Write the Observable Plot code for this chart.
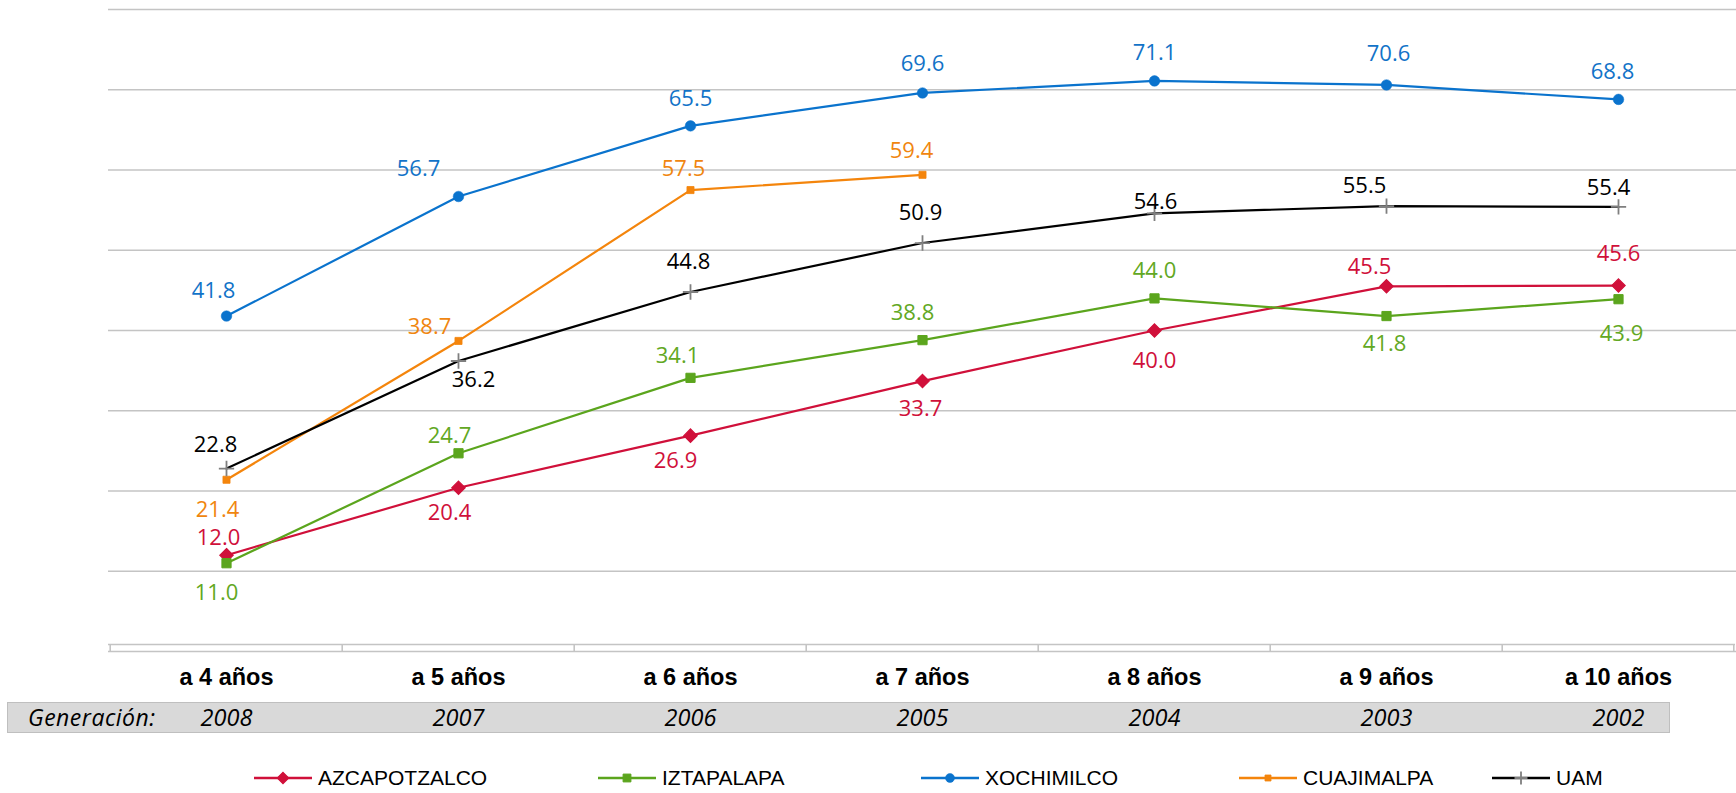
<!DOCTYPE html>
<html><head><meta charset="utf-8">
<script src="https://cdn.jsdelivr.net/npm/d3@7"></script>
<script src="https://cdn.jsdelivr.net/npm/@observablehq/plot@0.6"></script>
<style>
html,body{margin:0;padding:0;background:#fff;}
#wrap{position:relative;width:1736px;height:793px;overflow:hidden;background:#fff;}
#band{position:absolute;left:7px;top:702px;width:1663px;height:31px;box-sizing:border-box;background:#d9d9d9;border:1.5px solid #bfbfbf;z-index:0;}
#gen{position:absolute;left:28px;top:702px;height:31px;line-height:31px;font-family:"Open Sans";font-style:italic;font-size:23px;color:#000;z-index:2;letter-spacing:0.5px;}
#chart{position:absolute;left:0;top:0;z-index:1;}
#chart svg{background:transparent;}
.leg{position:absolute;top:766px;height:24px;display:flex;align-items:center;font-family:"Liberation Sans",Arial,sans-serif;font-size:21px;color:#000;z-index:2;}
.leg svg{margin-right:6px;}
</style>
</head><body>
<div id="wrap">
  <div id="band"></div>
  <div id="gen">Generación:</div>
  <div id="chart"></div>
</div>
<script>
// ---- data ----
const categorias = ["a 4 años","a 5 años","a 6 años","a 7 años","a 8 años","a 9 años","a 10 años"];
const generaciones = ["2008","2007","2006","2005","2004","2003","2002"];
const series = ["AZCAPOTZALCO","IZTAPALAPA","XOCHIMILCO","CUAJIMALPA","UAM"];
const azcapotzalco = [12.0,20.4,26.9,33.7,40.0,45.5,45.6];
const iztapalapa   = [11.0,24.7,34.1,38.8,44.0,41.8,43.9];
const xochimilco   = [41.8,56.7,65.5,69.6,71.1,70.6,68.8];
const cuajimalpa   = [21.4,38.7,57.5,59.4];
const uam          = [22.8,36.2,44.8,50.9,54.6,55.5,55.4];
const yTicks = [0,10,20,30,40,50,60,70,80];

// ---- styles ----
const valores = [azcapotzalco, iztapalapa, xochimilco, cuajimalpa, uam];
const colors = {AZCAPOTZALCO:"#d0103a", IZTAPALAPA:"#5ba51d", XOCHIMILCO:"#0a73cd", CUAJIMALPA:"#f4850c", UAM:"#000000"};
const labelColors = {AZCAPOTZALCO:"#d0103a", IZTAPALAPA:"#62a823", XOCHIMILCO:"#1273c8", CUAJIMALPA:"#f0860f", UAM:"#000000"};
const markers = {
  AZCAPOTZALCO:{symbol:"diamond2", r:6, fill:"#d0103a", stroke:"#d0103a", sw:1.2},
  IZTAPALAPA:{symbol:"square", r:5.2, fill:"#5ba51d", stroke:"#5ba51d", sw:1},
  XOCHIMILCO:{symbol:"circle", r:5.3, fill:"#0a73cd", stroke:"#0a73cd", sw:0.5},
  CUAJIMALPA:{symbol:"square", r:4, fill:"#f4850c", stroke:"#f4850c", sw:0.8},
  UAM:{symbol:"plus", r:5, fill:"none", stroke:"#7f7f7f", sw:1.8}
};
// label nudges in px (Excel manual label placement)
const labelNudge = {
  AZCAPOTZALCO:[[-8,-17],[-9,25],[-15,25],[-2,28],[0,30],[-17,-19],[0,-32]],
  IZTAPALAPA:[[-10,30],[-9,-17],[-13,-22],[-10,-27],[0,-27],[-2,28],[3,35]],
  XOCHIMILCO:[[-13,-25],[-40,-28],[0,-27],[0,-29],[0,-28],[2,-31],[-6,-27]],
  CUAJIMALPA:[[-9,30],[-29,-14],[-7,-21],[-11,-24]],
  UAM:[[-11,-24],[15,19],[-2,-30],[-2,-30],[1,-11],[-22,-20],[-10,-19]]
};

const W = 1736, H = 745, ML = 108, MR = 0, MT = 9, MB = 94;
const step = (W - ML - MR) / categorias.length;
const gridColor = "#c4c4c4";

const rows = [];
series.forEach((s, si) => valores[si].forEach((v, i) => rows.push({serie: s, cat: categorias[i], value: v, i})));

const marks = [];
marks.push(Plot.ruleY(yTicks.filter(t => t > 0), {stroke: gridColor, strokeWidth: 1.6}));
marks.push(Plot.ruleY([0], {stroke: gridColor, strokeWidth: 1.6}));
marks.push(Plot.ruleY([0], {stroke: gridColor, strokeWidth: 1.6, dy: -7, insetRight: 1}));
marks.push(Plot.ruleX(categorias, {x: d => d, y1: 0, y2: 0, insetTop: -7, dx: -step / 2, stroke: gridColor, strokeWidth: 1.6}));
marks.push(Plot.ruleX([categorias[categorias.length - 1]], {x: d => d, y1: 0, y2: 0, insetTop: -7, dx: step / 2 - 1, stroke: gridColor, strokeWidth: 1.6}));

series.forEach(s => {
  const data = rows.filter(r => r.serie === s);
  const m = markers[s];
  marks.push(Plot.line(data, {x: "cat", y: "value", stroke: colors[s], strokeWidth: 2.2, strokeLinejoin: "round"}));
  marks.push(Plot.dot(data, {x: "cat", y: "value", symbol: m.symbol, r: m.r, fill: m.fill, stroke: m.stroke, strokeWidth: m.sw}));
});
rows.forEach(r => {
  const [dx, dy] = labelNudge[r.serie][r.i];
  marks.push(Plot.text([r], {x: "cat", y: "value", text: d => d.value.toFixed(1), dx, dy,
    fill: labelColors[r.serie], fontSize: 22, fontFamily: "Open Sans", lineAnchor: "middle"}));
});
marks.push(Plot.text(categorias, {x: d => d, frameAnchor: "bottom", dy: 26, text: d => d,
  fontSize: 23.5, fontWeight: "bold", fontFamily: "Liberation Sans", fill: "#000", lineAnchor: "middle"}));
marks.push(Plot.text(generaciones, {x: (d, i) => categorias[i], frameAnchor: "bottom", dy: 67, text: d => d,
  fontSize: 23.5, fontStyle: "italic", fontFamily: "Open Sans", fill: "#000", lineAnchor: "middle"}));

const chart = Plot.plot({
  width: W, height: H, marginLeft: ML, marginRight: MR, marginTop: MT, marginBottom: MB,
  x: {type: "point", domain: categorias, padding: 0.5, axis: null},
  y: {domain: [0, 80], axis: null},
  style: {background: "transparent", overflow: "visible", fontFamily: "Liberation Sans"},
  marks
});
document.getElementById("chart").appendChild(chart);

// legend
const legLeft = {AZCAPOTZALCO: 254, IZTAPALAPA: 598, XOCHIMILCO: 921, CUAJIMALPA: 1239, UAM: 1492};
const symMap = {diamond2: d3.symbolDiamond2, square: d3.symbolSquare, circle: d3.symbolCircle, plus: d3.symbolPlus};
series.forEach(s => {
  const m = markers[s];
  const div = document.createElement("div");
  div.className = "leg";
  div.style.left = legLeft[s] + "px";
  const size = Math.PI * (m.r * 0.85) ** 2;
  const path = d3.symbol(symMap[m.symbol], size)();
  div.innerHTML = `<svg width="58" height="20"><line x1="0" x2="58" y1="10" y2="10" stroke="${colors[s]}" stroke-width="2.4"/>` +
    `<path d="${path}" transform="translate(29,10)" fill="${m.fill}" stroke="${m.stroke}" stroke-width="${m.sw}"/></svg><span>${s}</span>`;
  document.getElementById("wrap").appendChild(div);
});
</script>
</body></html>
